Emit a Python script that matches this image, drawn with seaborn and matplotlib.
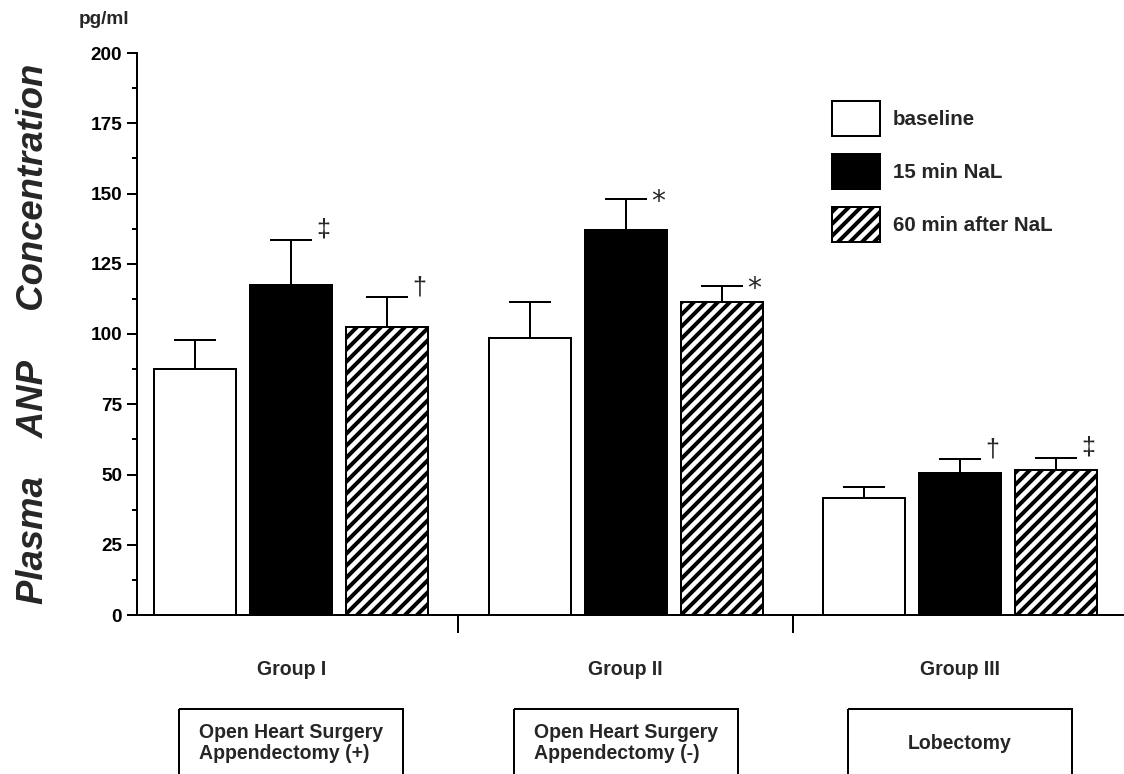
import numpy as np
import pandas as pd
import matplotlib
matplotlib.use("Agg")
import matplotlib.pyplot as plt
import seaborn as sns
from matplotlib.patches import Patch, Rectangle
from matplotlib.ticker import MultipleLocator

# ---- data ----
groups = ["Group I", "Group II", "Group III"]
procedures = ["Open Heart Surgery\nAppendectomy (+)",
              "Open Heart Surgery\nAppendectomy (-)",
              "Lobectomy"]
times = ["baseline", "15 min NaL", "60 min after NaL"]
baseline = [87.5, 98.5, 41.5]
nal_15 = [117.5, 137.0, 50.5]
nal_60 = [102.5, 111.5, 51.5]
baseline_err = [10.5, 13.0, 4.0]
nal_15_err = [16.0, 11.0, 5.0]
nal_60_err = [10.5, 5.5, 4.5]
marks_baseline = ["", "", ""]
marks_15 = ["\u2021", "*", "\u2020"]
marks_60 = ["\u2020", "*", "\u2021"]
y_ticks = [0, 25, 50, 75, 100, 125, 150, 175, 200]

# ---- style ----
sns.set_style("ticks")
plt.rcParams["font.family"] = ["Liberation Sans", "DejaVu Sans"]
plt.rcParams["font.weight"] = "bold"
plt.rcParams["hatch.linewidth"] = 2.0
plt.rcParams["hatch.color"] = "black"

DPI = 144
W, H = 1124, 774
fig = plt.figure(figsize=(W / DPI, H / DPI), dpi=DPI)
ax = fig.add_axes([137 / W, 159 / H, 1 - 137 / W, 562 / H])

df = pd.DataFrame({
    "group": groups * 3,
    "time": np.repeat(times, 3),
    "value": baseline + nal_15 + nal_60,
})

sns.barplot(data=df, x="group", y="value", hue="time", order=groups,
            hue_order=times, palette=["white", "black", "white"],
            edgecolor="black", linewidth=1.0, width=0.861, gap=0.146,
            saturation=1, errorbar=None, legend=False, ax=ax)

HATCH = "////"
for p in ax.containers[2]:
    p.set_hatch(HATCH)

for cont, errs, marks in zip(ax.containers,
                             [baseline_err, nal_15_err, nal_60_err],
                             [marks_baseline, marks_15, marks_60]):
    xs = [p.get_x() + p.get_width() / 2 for p in cont]
    hs = [p.get_height() for p in cont]
    ax.errorbar(xs, hs, yerr=[np.zeros(len(errs)), errs], fmt="none",
                ecolor="black", elinewidth=1.0, capsize=10.5, capthick=1.0)
    for x, h, e, m in zip(xs, hs, errs, marks):
        if m:
            is_star = m == "*"
            ax.annotate(m, xy=(x, h + e),
                        xytext=(16, -1.5 if is_star else 5),
                        textcoords="offset points", ha="center", va="center",
                        fontsize=14 if is_star else 12.5, fontweight="normal",
                        family=["DejaVu Sans"] if is_star
                        else ["Liberation Sans", "DejaVu Sans"])

# axes
ax.set_ylim(0, 200)
ax.set_xlim(-0.461, 2.49)
ax.set_yticks(y_ticks)
ax.set_yticklabels([str(t) for t in y_ticks], fontsize=9.5, fontweight="bold")
ax.yaxis.set_minor_locator(MultipleLocator(12.5))
ax.tick_params(axis="y", which="major", length=5, width=1, pad=2.5, colors="black")
ax.tick_params(axis="y", which="minor", length=2.5, width=1, colors="black")
ax.set_xticks([0.5, 1.5])
ax.set_xticklabels([])
ax.tick_params(axis="x", which="major", length=9, width=1, colors="black")
ax.set_xlabel("")
ax.set_ylabel("")
sns.despine(ax=ax)
for s in ["left", "bottom"]:
    ax.spines[s].set_linewidth(1.0)
    ax.spines[s].set_color("black")

trans = ax.get_xaxis_transform()
for i, (g, proc) in enumerate(zip(groups, procedures)):
    ax.text(i, -0.1068, g, transform=trans, ha="center", va="baseline",
            fontsize=9.75, fontweight="bold")
    ax.add_patch(Rectangle((i - 0.335, -0.1673), 0.67, -0.4, transform=trans,
                           fill=False, edgecolor="black", linewidth=1.0,
                           clip_on=False))
    ax.text(i, -0.228, proc, transform=trans, ha="center", va="center",
            multialignment="left", linespacing=1.1, fontsize=9.75,
            fontweight="bold")

# legend
handles = [Patch(facecolor="white", edgecolor="black", linewidth=1.0),
           Patch(facecolor="black", edgecolor="black", linewidth=1.0),
           Patch(facecolor="white", edgecolor="black", linewidth=1.0, hatch=HATCH)]
fig.legend(handles, times, loc="upper left",
           bbox_to_anchor=(832 / W, 1 - 101 / H), frameon=False,
           prop={"size": 10.25, "weight": "bold"}, handlelength=2.34,
           handleheight=2.25, labelspacing=0.878, handletextpad=0.63,
           borderpad=0, borderaxespad=0)

fig.text(104.5 / W, 1 - 23.5 / H, "pg/ml", ha="center", va="baseline",
         fontsize=9.5, fontweight="bold")
fig.text(34 / W, 1 - 334 / H, "Plasma    ANP     Concentration", rotation=90,
         ha="center", va="center", fontsize=18.25, fontweight="bold",
         fontstyle="italic")

fig.savefig("out.png", dpi=DPI)
